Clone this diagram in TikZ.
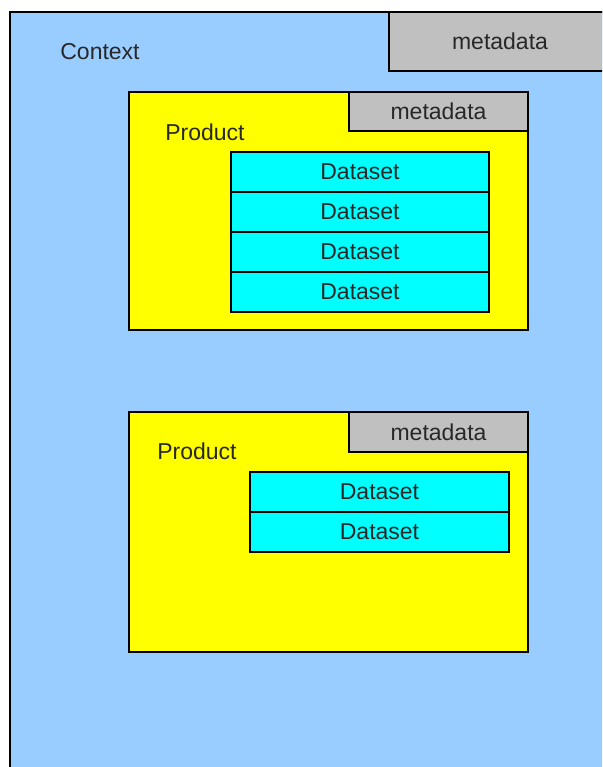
\documentclass[tikz,border=0pt]{standalone}
\usepackage{fontspec}
\setmainfont{Liberation Sans}
\definecolor{ctxblue}{RGB}{153,204,255}
\definecolor{prodyellow}{RGB}{255,255,0}
\definecolor{dscyan}{RGB}{0,255,255}
\definecolor{metagray}{RGB}{192,192,192}
\definecolor{txtdark}{RGB}{40,40,40}
\usetikzlibrary{positioning}

\begin{document}
\begin{tikzpicture}[x=1pt, y=-1pt,
        box/.style={rectangle, draw=black, line width=2.5pt, inner sep=0pt, outer sep=0pt,
                    text=txtdark, font=\fontsize{23}{28}\selectfont},
        ctxbox/.style={box, fill=ctxblue, anchor=north west,
                       minimum width=620pt, minimum height=780pt},
        prodbox/.style={box, fill=prodyellow, anchor=north west, minimum width=399pt},
        metabox/.style={box, fill=metagray, minimum height=39pt},
        dsbox/.style={box, fill=dscyan, anchor=north west,
                      minimum width=258pt, minimum height=40pt},
        lbl/.style={text=txtdark, font=\fontsize{23}{28}\selectfont, inner sep=0pt}
      ]
        \useasboundingbox (0,0) rectangle (602,767);
        \clip (0,0) rectangle (602,767);

        % context
        \node[ctxbox] (ctx) at (10,12) {};
        \node[metabox, anchor=north west, minimum width=222pt, minimum height=59pt]
            (ctxmeta) at (389,12) {metadata};
        \node[lbl] (ctxlbl) at (100,52) {Context};

        % first product
        \node[prodbox, minimum height=238pt] (prodA) at (129,92) {};
        \node[metabox, anchor=north east, minimum width=179pt] (metaA) at (prodA.north east) {metadata};
        \node[lbl] (prodAlbl) at (205,132) {Product};
        \node[dsbox] (dsA1) at (231,152) {Dataset};
        \node[dsbox, below=0pt of dsA1] (dsA2) {Dataset};
        \node[dsbox, below=0pt of dsA2] (dsA3) {Dataset};
        \node[dsbox, below=0pt of dsA3] (dsA4) {Dataset};

        % second product
        \node[prodbox, minimum height=240pt] (prodB) at (129,412) {};
        \node[metabox, anchor=north east, minimum width=179pt, minimum height=40pt]
            (metaB) at (prodB.north east) {metadata};
        \node[lbl] (prodBlbl) at (197,451) {Product};
        \node[dsbox, minimum width=259pt] (dsB1) at (250,472) {Dataset};
        \node[dsbox, minimum width=259pt, below=0pt of dsB1] (dsB2) {Dataset};
      \end{tikzpicture}
\end{document}
